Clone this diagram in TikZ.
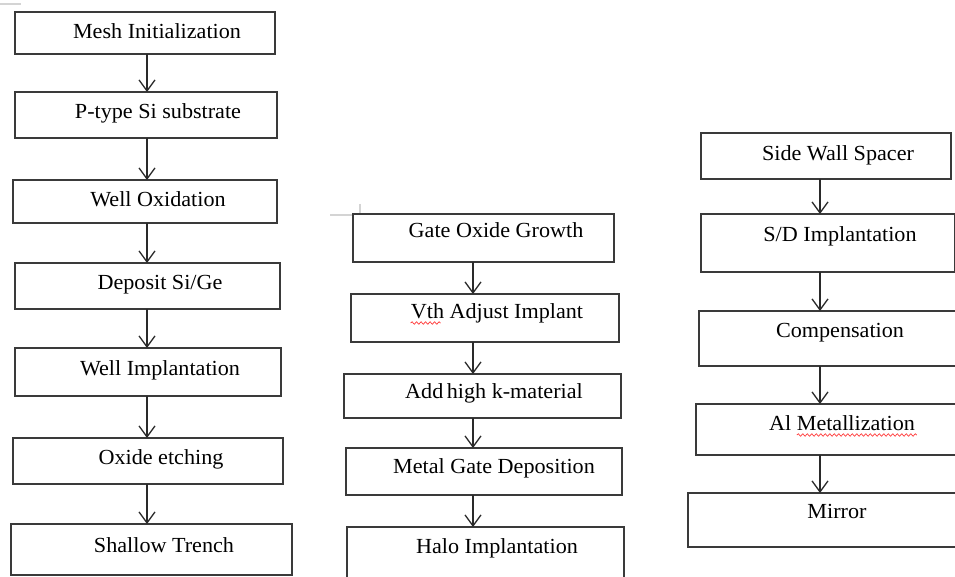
\documentclass[tikz,border=0pt]{standalone}
\usepackage{fontspec}
\setmainfont[FakeStretch=1.03]{Liberation Serif}
\usetikzlibrary{arrows.meta,decorations.pathmorphing}
\definecolor{boxgrey}{HTML}{3A3A3A}
\definecolor{arrgrey}{HTML}{2A2A2A}
\definecolor{markgrey}{HTML}{D4D4D4}
\newcommand\bx[5]{\node[box,minimum width={(#4-#2)*1pt},minimum height={(#5-#3)*1pt}] (#1) at ({(#2+#4)/2},{(#3+#5)/2}) {};}
\begin{document}
\begin{tikzpicture}[x=1pt,y=-1pt,
  box/.style={draw=boxgrey,line width=1.4pt,rectangle,inner sep=0pt,outer sep=0pt},
  txt/.style={anchor=base,font=\fontsize{21.5}{25}\selectfont,inner sep=0pt,text=black},
  arr/.style={draw=arrgrey,line width=1.3pt,-{Straight Barb[length=11pt,width=16pt,line width=1.3pt]}},
  wave/.style={draw=red!80,line width=0.7pt,decorate,decoration={snake,segment length=4.5pt,amplitude=1.2pt}},
  marginline/.style={draw=markgrey,line width=1.2pt}]
\useasboundingbox (0,0) rectangle (955,577);
\clip (0,0) rectangle (955,577);
\fill[white] (0,0) rectangle (955,577);
% margin marks
\draw[marginline] (0,4) -- (21,4);
\draw[marginline] (330,215) -- (353,215);
\draw[marginline] (360,204) -- (360,215);
% column 1
\bx{a1}{15}{12}{275}{54}
\bx{a2}{15}{92}{277}{138}
\bx{a3}{13}{180}{277}{223}
\bx{a4}{15}{263}{280}{309}
\bx{a5}{15}{348}{281}{396}
\bx{a6}{13}{438}{283}{484}
\bx{a7}{11}{524}{292}{575}
\node[txt] (ta1) at (157,39) {Mesh Initialization};
\node[txt] (ta2) at (158,119) {P-type Si substrate};
\node[txt] (ta3) at (158,207) {Well Oxidation};
\node[txt] (ta4) at (160,289) {Deposit Si/Ge};
\node[txt] (ta5) at (160,375) {Well Implantation};
\node[txt] (ta6) at (161,464) {Oxide etching};
\node[txt] (ta7) at (164,552) {Shallow Trench};
\coordinate (ca) at (147,0);
\draw[arr] (a1.south -| ca) -- (a2.north -| ca);
\draw[arr] (a2.south -| ca) -- (a3.north -| ca);
\draw[arr] (a3.south -| ca) -- (a4.north -| ca);
\draw[arr] (a4.south -| ca) -- (a5.north -| ca);
\draw[arr] (a5.south -| ca) -- (a6.north -| ca);
\draw[arr] (a6.south -| ca) -- (a7.north -| ca);
% column 2
\bx{b1}{353}{214}{614}{262}
\bx{b2}{351}{294}{619}{342}
\bx{b3}{344}{374}{621}{418}
\bx{b4}{346}{448}{622}{495}
\bx{b5}{347}{527}{624}{600}
\node[txt] (tb1) at (496,238) {Gate Oxide Growth};
\node[txt] (tb2) at (497,318) {Vth Adjust Implant};
\node[txt] (tb3) at (494,398) {Add\hspace{-2pt} high k-material};
\node[txt] (tb4) at (494,473) {Metal Gate Deposition};
\node[txt] (tb5) at (497,553) {Halo Implantation};
\coordinate (cb) at (473,0);
\draw[arr] (b1.south -| cb) -- (b2.north -| cb);
\draw[arr] (b2.south -| cb) -- (b3.north -| cb);
\draw[arr] (b3.south -| cb) -- (b4.north -| cb);
\draw[arr] (b4.south -| cb) -- (b5.north -| cb);
\draw[wave] (tb2.base west) ++(0,5) -- ++(30,0);
% column 3
\bx{c1}{701}{133}{951}{179}
\bx{c2}{701}{214}{955}{272}
\bx{c3}{699}{311}{975}{366}
\bx{c4}{696}{404}{975}{455}
\bx{c5}{688}{493}{975}{547}
\node[txt] (tc1) at (838,161) {Side Wall Spacer};
\node[txt] (tc2) at (840,242) {S/D Implantation};
\node[txt] (tc3) at (840,337) {Compensation};
\node[txt] (tc4) at (842,430) {Al Metallization};
\node[txt] (tc5) at (837,518) {Mirror};
\coordinate (cc) at (820,0);
\draw[arr] (c1.south -| cc) -- (c2.north -| cc);
\draw[arr] (c2.south -| cc) -- (c3.north -| cc);
\draw[arr] (c3.south -| cc) -- (c4.north -| cc);
\draw[arr] (c4.south -| cc) -- (c5.north -| cc);
\draw[wave] (tc4.base west) ++(28,5) -- ++(120,0);
\end{tikzpicture}
\end{document}
